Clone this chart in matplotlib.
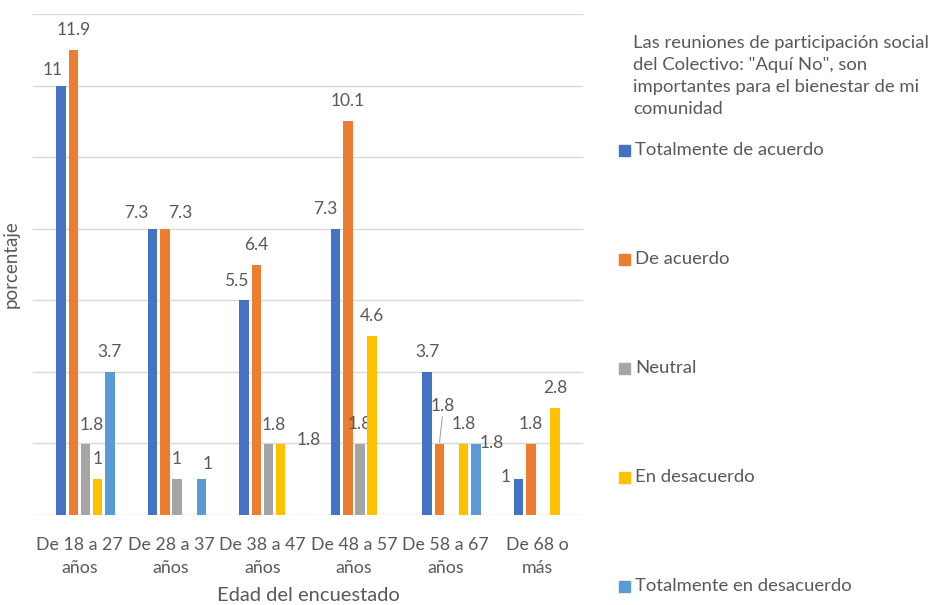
import matplotlib.pyplot as plt
from matplotlib.patches import Rectangle
from matplotlib.transforms import ScaledTranslation
import numpy as np

plt.rcParams['font.family'] = ['Lato', 'DejaVu Sans']

# data
categories = ['De 18 a 27\naños', 'De 28 a 37\naños', 'De 38 a 47\naños',
              'De 48 a 57\naños', 'De 58 a 67\naños', 'De 68 o\nmás']
series_names = ['Totalmente de acuerdo', 'De acuerdo', 'Neutral',
                'En desacuerdo', 'Totalmente en desacuerdo']
tot_acuerdo = [11.01, 7.34, 5.50, 7.34, 3.67, 0.92]
de_acuerdo = [11.93, 7.34, 6.42, 10.09, 1.83, 1.83]
neutral = [1.83, 0.92, 1.83, 1.83, 0, 0]
desacuerdo = [0.92, 0, 1.83, 4.59, 1.83, 2.75]
tot_desacuerdo = [3.67, 0.92, 0, 0, 1.83, 0]
label_tot_acuerdo = ['11', '7.3', '5.5', '7.3', '3.7', '1']
label_de_acuerdo = ['11.9', '7.3', '6.4', '10.1', '1.8', '1.8']
label_neutral = ['1.8', '1', '1.8', '1.8', '', '']
label_desacuerdo = ['1', '', '1.8', '4.6', '1.8', '2.8']
label_tot_desacuerdo = ['3.7', '1', '', '', '1.8', '']

values = [tot_acuerdo, de_acuerdo, neutral, desacuerdo, tot_desacuerdo]
labels = [label_tot_acuerdo, label_de_acuerdo, label_neutral,
          label_desacuerdo, label_tot_desacuerdo]
colors = ['#4472C4', '#ED7D31', '#A5A5A5', '#FFC000', '#5B9BD5']

# label nudges in pixels (dx, dy above bar top), default (0, 20)
nudges = {(0, 0): (-8.5, 16), (0, 1): (-16, 16), (1, 1): (15, 16),
          (4, 1): (6, 15), (0, 2): (-8, 19), (2, 2): (5, 19),
          (3, 2): (28, 4), (0, 3): (-10, 20), (1, 4): (3, 38),
          (4, 4): (15.5, 1), (0, 5): (-13.5, 2), (2, 0): (6, 19)}

txt = '#595959'
fig = plt.figure(figsize=(9.3, 6.05), dpi=100)
ax = fig.add_axes([33/930, 1 - 515/605, 550/930, 501/605])

step = 200/109
x = np.arange(len(categories))
w = 0.104
gap = 0.133
for j, (vals, labs) in enumerate(zip(values, labels)):
    for i, v in enumerate(vals):
        xi = x[i] + (j - 2) * gap
        if v > 0:
            ax.bar(xi, v, width=w, color=colors[j], zorder=3)
        if labs[i]:
            dx, dy = nudges.get((j, i), (0, 20))
            ax.annotate(labs[i], (xi, v), xytext=(dx*0.72, dy*0.72),
                        textcoords='offset points', ha='center', va='center',
                        fontsize=12.5, color=txt)
            if (j, i) == (1, 4):
                # leader line for the displaced label
                ax.annotate('', (xi, v), xytext=(dx*0.72, dy*0.72 - 8),
                            textcoords='offset points',
                            arrowprops=dict(arrowstyle='-', color='#A6A6A6',
                                            lw=0.8, shrinkA=0, shrinkB=1))

ax.set_ylim(0, 7*step)
ax.set_xlim(-0.574, 5.437)
ax.set_yticks(np.arange(0, 8)*step)
ax.set_yticklabels([])
ax.tick_params(axis='y', length=0)
ax.tick_params(axis='x', length=0, pad=16, labelsize=12.8, labelcolor=txt)
ax.set_xticks(x)
ax.set_xticklabels(categories, linespacing=1.5)
shift = ScaledTranslation(-6/100, 0, fig.dpi_scale_trans)
for lab in ax.get_xticklabels():
    lab.set_transform(lab.get_transform() + shift)
ax.grid(axis='y', color='#D9D9D9', lw=1, zorder=0)
for s in ax.spines.values():
    s.set_visible(False)
ax.set_xlabel('Edad del encuestado', fontsize=14.5, color=txt, labelpad=8)
ax.set_ylabel('porcentaje', fontsize=13.5, color=txt, labelpad=6)

# legend
fig.text(633/930, 1 - 35/605,
         'Las reuniones de participación social\ndel Colectivo: "Aquí No", son\n'
         'importantes para el bienestar de mi\ncomunidad',
         fontsize=13.3, color=txt, va='top', ha='left', linespacing=1.45)
for k, name in enumerate(series_names):
    yc = 150 + 109*k
    fig.patches.append(Rectangle((619/930, 1 - (yc + 5.5)/605), 11/930, 11/605,
                                 transform=fig.transFigure, color=colors[k]))
    fig.text(635/930, 1 - yc/605, name, fontsize=13.3, color=txt,
             va='center', ha='left')

plt.savefig('out.png', dpi=100)
